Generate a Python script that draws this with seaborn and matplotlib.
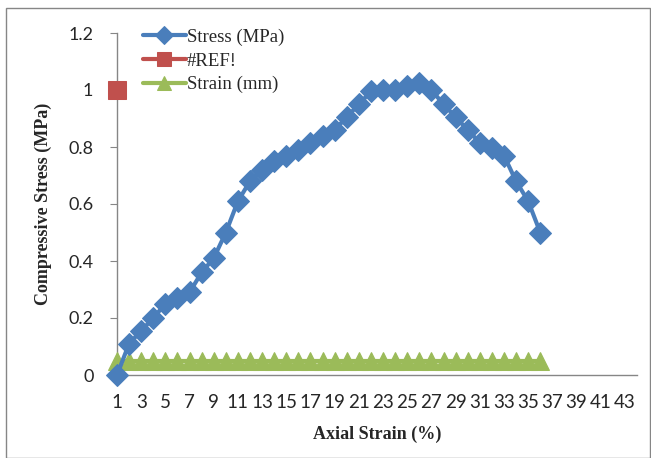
import matplotlib
matplotlib.use("Agg")
import matplotlib.pyplot as plt
import seaborn as sns
import numpy as np
import pandas as pd
from matplotlib.patches import Rectangle

# ---- data ----
categories = list(range(1, 45))
stress_x = list(range(1, 37))
stress_mpa = [0.0, 0.11, 0.155, 0.20, 0.25, 0.27, 0.29, 0.36, 0.41, 0.50,
              0.61, 0.68, 0.72, 0.75, 0.77, 0.79, 0.815, 0.84, 0.86, 0.905,
              0.95, 0.995, 1.0, 1.0, 1.015, 1.025, 1.0, 0.95, 0.905, 0.86,
              0.815, 0.795, 0.77, 0.68, 0.61, 0.50]
strain_mm = [0.05] * 36
ref_x = [1]
ref_y = [1.0]
y_ticks = [0, 0.2, 0.4, 0.6, 0.8, 1.0, 1.2]
y_tick_labels = ["0", "0.2", "0.4", "0.6", "0.8", "1", "1.2"]
x_tick_labels = [str(c) if c % 2 == 1 else "" for c in categories]

sns.set_theme(style="white")
plt.rcParams['font.family'] = ['Lato', 'DejaVu Sans']

fig = plt.figure(figsize=(6.51, 4.58), dpi=100)
ax = fig.add_axes([117/651, 1-375/458, (637-117)/651, (375-33)/458])

blue = "#4A7EBB"
red = "#C0504D"
green = "#9BBB59"

df_s = pd.DataFrame({"x": stress_x, "y": stress_mpa})
df_t = pd.DataFrame({"x": stress_x, "y": strain_mm})
df_r = pd.DataFrame({"x": ref_x, "y": ref_y})

sns.lineplot(data=df_t, x="x", y="y", ax=ax, color=green, lw=3, marker="^",
             markersize=13, markeredgecolor=green, label="Strain (mm)", zorder=2,
             clip_on=False)
sns.lineplot(data=df_s, x="x", y="y", ax=ax, color=blue, lw=3, marker="D",
             markersize=11, markeredgecolor=blue, label="Stress (MPa)", zorder=3,
             clip_on=False)
sns.lineplot(data=df_r, x="x", y="y", ax=ax, color=red, lw=3, marker="s",
             markersize=13, markeredgecolor=red, label="#REF!", zorder=4,
             clip_on=False)

ax.set_xlim(1, 44)
ax.set_ylim(0, 1.2)
ax.set_yticks(y_ticks)
ax.set_yticklabels(y_tick_labels, fontsize=13)
ax.set_xticks(categories)
ax.set_xticklabels(x_tick_labels, fontsize=13.5)
ax.tick_params(axis="y", length=5, width=0.8, color="#868686", direction="out", left=True, pad=12)
ax.tick_params(axis="x", length=0, pad=14)

for s in ["top", "right"]:
    ax.spines[s].set_visible(False)
for s in ["left", "bottom"]:
    ax.spines[s].set_color("#868686")
    ax.spines[s].set_linewidth(1.0)
ax.spines["left"].set_zorder(1)

ax.set_xlabel("Axial Strain (%)", fontsize=13, fontweight="bold",
              family=["Liberation Serif"], labelpad=10)
ax.set_ylabel("Compressive Stress (MPa)", fontsize=13, fontweight="bold",
              family=["Liberation Serif"], labelpad=12)

handles, labels = ax.get_legend_handles_labels()
order = [labels.index("Stress (MPa)"), labels.index("#REF!"), labels.index("Strain (mm)")]
leg = ax.legend([handles[i] for i in order], [labels[i] for i in order],
                loc="upper left", bbox_to_anchor=(0.035, 1.035), frameon=False,
                prop={"family": "Liberation Serif", "size": 13.5},
                handlelength=2.3, handletextpad=0.05, labelspacing=0.35,
                borderaxespad=0, markerscale=0.8)

fig.patches.append(Rectangle((6/651, 0.0), 1 - 7/651, 1 - 8/458, transform=fig.transFigure,
                             fill=False, edgecolor="#868686", lw=1.0))

fig.savefig("out.png", dpi=100)
